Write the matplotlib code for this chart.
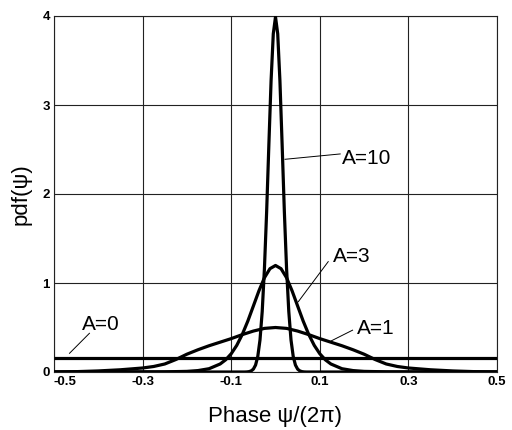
import matplotlib
matplotlib.use('Agg')
import matplotlib.pyplot as plt

plt.rcParams['font.family'] = ['Liberation Sans', 'DejaVu Sans']

# uniform phase, A=0
x_a0 = [-0.5, 0.5]
y_a0 = [0.16, 0.16]

# A=1
x_a1 = [-0.5, -0.45, -0.4, -0.35, -0.3, -0.275, -0.25, -0.225, -0.2, -0.175,
        -0.15, -0.125, -0.1, -0.075, -0.05, -0.025, 0.0,
        0.025, 0.05, 0.075, 0.1, 0.125, 0.15, 0.175, 0.2, 0.225, 0.25,
        0.275, 0.3, 0.35, 0.4, 0.45, 0.5]
y_a1 = [0.0, 0.004, 0.012, 0.025, 0.045, 0.062, 0.09, 0.14, 0.2, 0.25,
        0.295, 0.335, 0.375, 0.42, 0.46, 0.49, 0.5,
        0.49, 0.46, 0.42, 0.375, 0.335, 0.295, 0.25, 0.2, 0.14, 0.09,
        0.062, 0.045, 0.025, 0.012, 0.004, 0.0]

# A=3
x_a3 = [-0.5, -0.25, -0.2, -0.175, -0.15, -0.125, -0.1125, -0.1, -0.0875, -0.075,
        -0.0625, -0.05, -0.0375, -0.025, -0.0125, 0.0,
        0.0125, 0.025, 0.0375, 0.05, 0.0625, 0.075, 0.0875, 0.1, 0.1125,
        0.125, 0.15, 0.175, 0.2, 0.25, 0.5]
y_a3 = [0.0, 0.002, 0.007, 0.016, 0.037, 0.09, 0.137, 0.205, 0.299, 0.422,
        0.572, 0.741, 0.911, 1.059, 1.161, 1.197,
        1.161, 1.059, 0.911, 0.741, 0.572, 0.422, 0.299, 0.205, 0.137,
        0.09, 0.037, 0.016, 0.007, 0.002, 0.0]

# A=10
x_a10 = [-0.5, -0.07, -0.065, -0.06, -0.055, -0.05, -0.045, -0.04, -0.035, -0.03,
         -0.025, -0.02, -0.015, -0.01, -0.005, 0.0,
         0.005, 0.01, 0.015, 0.02, 0.025, 0.03, 0.035, 0.04, 0.045,
         0.05, 0.055, 0.06, 0.065, 0.07, 0.5]
y_a10 = [0.0, 0.0, 0.001, 0.004, 0.012, 0.032, 0.078, 0.175, 0.36, 0.68,
         1.16, 1.80, 2.55, 3.27, 3.80, 3.99,
         3.80, 3.27, 2.55, 1.80, 1.16, 0.68, 0.36, 0.175, 0.078,
         0.032, 0.012, 0.004, 0.001, 0.0, 0.0]

xticks = [-0.5, -0.3, -0.1, 0.1, 0.3, 0.5]
xtick_labels = ['-0.5', '-0.3', '-0.1', '0.1', '0.3', '0.5']
yticks = [0, 1, 2, 3, 4]

# label text, text position, leader line start -> end
labels = [
    ('A=10', (0.150, 2.40), (0.146, 2.45), (0.0215, 2.39)),
    ('A=3', (0.130, 1.30), (0.119, 1.24), (0.0515, 0.79)),
    ('A=1', (0.184, 0.49), (0.174, 0.47), (0.126, 0.35)),
    ('A=0', (-0.437, 0.53), (-0.420, 0.435), (-0.465, 0.21)),
]

fig = plt.figure(figsize=(5.12, 4.3), dpi=100)
ax = fig.add_axes([54 / 512, 58 / 430, 443 / 512, 356 / 430])

lw = 2.3
ax.plot(x_a0, y_a0, color='black', lw=lw, solid_capstyle='butt', zorder=3)
ax.plot(x_a1, y_a1, color='black', lw=lw, zorder=3)
ax.plot(x_a3, y_a3, color='black', lw=lw, zorder=3)
ax.plot(x_a10, y_a10, color='black', lw=lw, zorder=3)

for text, pos, p0, p1 in labels:
    ax.text(pos[0], pos[1], text, fontsize=15, ha='left', va='center')
    ax.plot([p0[0], p1[0]], [p0[1], p1[1]], color='black', lw=0.7, zorder=2)

ax.set_xlim(-0.5, 0.5)
ax.set_ylim(0, 4)
ax.set_xticks(xticks)
ax.set_xticklabels(xtick_labels, fontweight='bold', fontsize=9.5)
ax.set_yticks(yticks)
ax.set_yticklabels([str(v) for v in yticks], fontweight='bold', fontsize=9.5)
ax.tick_params(length=0, pad=3)
ax.get_xticklabels()[0].set_horizontalalignment('left')

ax.grid(color='#222222', linewidth=0.8, zorder=1)
for s in ax.spines.values():
    s.set_linewidth(0.8)
    s.set_color('#222222')

ax.set_xlabel('Phase \u03c8/(2\u03c0)', fontsize=16, labelpad=13)
ax.set_ylabel('pdf(\u03c8)', fontsize=16, labelpad=8)

fig.savefig('out.png', dpi=100)
